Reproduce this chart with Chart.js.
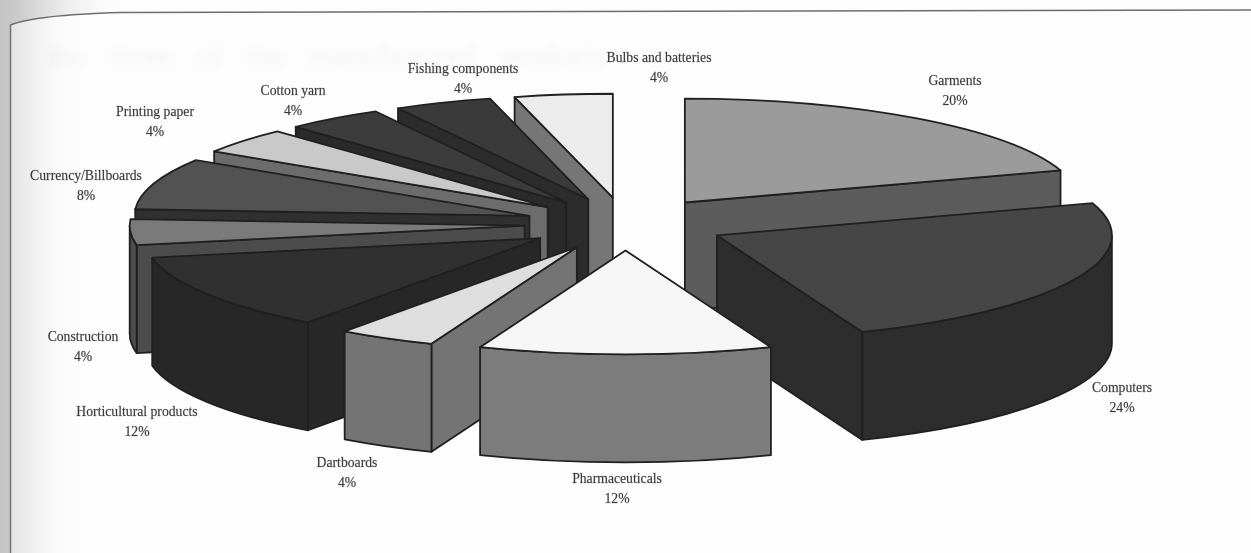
<!DOCTYPE html>
<html>
<head>
<meta charset="utf-8">
<title>Exports by product</title>
<script src="https://cdn.jsdelivr.net/npm/chart.js@4/dist/chart.umd.js"></script>
<style>
  html, body { margin: 0; padding: 0; background: #fdfdfd; }
  canvas { display: block; }
</style>
</head>
<body>
<canvas id="productPie" width="1251" height="553"></canvas>
<script>
// ── Data ───────────────────────────────────────────────────────────────────
const categories = [
  "Garments", "Computers", "Pharmaceuticals", "Dartboards",
  "Horticultural products", "Construction", "Currency/Billboards",
  "Printing paper", "Cotton yarn", "Fishing components", "Bulbs and batteries",
];
const shareValues = [20, 24, 12, 4, 12, 4, 8, 4, 4, 4, 4];
const topColors = [
  "#9b9b9b", "#464646", "#f6f6f6", "#dedede", "#303030", "#7a7a7a",
  "#525252", "#c9c9c9", "#3c3c3c", "#3a3a3a", "#ececec",
];
const sideColors = [
  "#5c5c5c", "#2d2d2d", "#7c7c7c", "#747474", "#272727", "#4c4c4c",
  "#303030", "#6c6c6c", "#2a2a2a", "#2c2c2c", "#767676",
];

// ── Layout ─────────────────────────────────────────────────────────────────
const PIE_RADIUS = 395;     // horizontal radius of every slice
const TILT = 0.263;         // vertical squash of the pie plane
const EXPLODE = 101;        // how far each slice is pulled from the centre
const DEPTH = 108;          // height of the extruded walls
const EDGE_COLOR = "#202020";

// centre x of each label, y of its name line
const labelAnchors = [
  [955, 81], [1122, 388], [617, 479], [347, 463], [137, 412], [83, 337],
  [86, 176], [155, 112], [293, 91], [463, 69], [659, 58],
];

// ── Page background: scanned sheet with the box rule ───────────────────────
function traceRule(ctx, height, width) {
  ctx.moveTo(10.5, height);
  ctx.lineTo(10.5, 25);
  ctx.quadraticCurveTo(35, 15, 120, 12.5);
  ctx.lineTo(width, 10);
}

const paperPlugin = {
  id: "paper",
  beforeDraw(chart) {
    const { ctx, width, height } = chart;
    ctx.save();
    ctx.fillStyle = "#fdfdfd";
    ctx.fillRect(0, 0, width, height);

    // shadow along the binding, inside the box
    const inner = ctx.createLinearGradient(11, 0, 85, 0);
    inner.addColorStop(0, "#e2e2e2");
    inner.addColorStop(1, "rgba(253,253,253,0)");
    ctx.fillStyle = inner;
    ctx.fillRect(11, 0, 74, height);

    // shadow outside the box, above and left of the rule
    const outer = ctx.createLinearGradient(0, 0, 130, 0);
    outer.addColorStop(0, "#c4c4c4");
    outer.addColorStop(0.1, "#c8c8c8");
    outer.addColorStop(1, "rgba(253,253,253,0)");
    ctx.beginPath();
    traceRule(ctx, height, width);
    ctx.lineTo(width, 0);
    ctx.lineTo(0, 0);
    ctx.lineTo(0, height);
    ctx.closePath();
    ctx.fillStyle = outer;
    ctx.fill();

    ctx.strokeStyle = "#6e6e6e";
    ctx.lineWidth = 1.4;
    ctx.beginPath();
    traceRule(ctx, height, width);
    ctx.stroke();

    // faint print from the other side of the sheet
    ctx.filter = "blur(3px)";
    ctx.fillStyle = "rgba(90,90,90,0.07)";
    ctx.font = '30px "Liberation Serif"';
    ctx.wordSpacing = "18px";
    ctx.fillText("the three of the manufactured products", 50, 66);
    ctx.restore();
  },
};

// ── Extruded pie: slices are painted back to front ─────────────────────────
function traceTop(ctx, ax, ay, arc) {
  ctx.beginPath();
  ctx.moveTo(ax, ay);
  ctx.ellipse(ax, ay, arc.outerRadius, arc.outerRadius * TILT, 0, arc.startAngle, arc.endAngle);
  ctx.closePath();
}

function paintWall(ctx, color, trace) {
  ctx.beginPath();
  trace();
  ctx.closePath();
  ctx.fillStyle = color;
  ctx.fill();
  ctx.stroke();
}

function drawWalls(ctx, ax, ay, arc, color) {
  const rx = arc.outerRadius;
  const ry = rx * TILT;
  const flat = (wx, wy) => paintWall(ctx, color, () => {
    ctx.moveTo(ax, ay);
    ctx.lineTo(wx, wy);
    ctx.lineTo(wx, wy + DEPTH);
    ctx.lineTo(ax, ay + DEPTH);
  });
  const sx = ax + rx * Math.cos(arc.startAngle);
  const sy = ay + ry * Math.sin(arc.startAngle);
  const ex = ax + rx * Math.cos(arc.endAngle);
  const ey = ay + ry * Math.sin(arc.endAngle);

  // only faces turned towards the viewer show
  if (sx < ax - 0.5) flat(sx, sy);
  if (ex > ax + 0.5) flat(ex, ey);

  const from = Math.max(arc.startAngle, 0);
  const to = Math.min(arc.endAngle, Math.PI);
  if (to > from) {
    paintWall(ctx, color, () => {
      ctx.ellipse(ax, ay, rx, ry, 0, from, to);
      ctx.ellipse(ax, ay + DEPTH, rx, ry, 0, to, from, true);
    });
  }
}

const extrudePlugin = {
  id: "extrude",
  beforeDatasetsDraw(chart) {
    const { ctx } = chart;
    const arcs = chart.getDatasetMeta(0).data;
    const midAngle = (arc) => (arc.startAngle + arc.endAngle) / 2;
    const order = arcs
      .map((arc, i) => i)
      .sort((p, q) => Math.sin(midAngle(arcs[p])) - Math.sin(midAngle(arcs[q])));

    ctx.save();
    ctx.strokeStyle = EDGE_COLOR;
    ctx.lineWidth = 1.8;
    ctx.lineJoin = "round";
    order.forEach((i) => {
      const arc = arcs[i];
      const mid = midAngle(arc);
      const ax = arc.x + Math.cos(mid) * EXPLODE;
      const ay = arc.y + Math.sin(mid) * EXPLODE * TILT;

      drawWalls(ctx, ax, ay, arc, sideColors[i]);

      // top face comes from the library's own arc, laid onto the tilted plane
      ctx.save();
      ctx.translate(ax, ay);
      ctx.scale(1, TILT);
      ctx.translate(-arc.x, -arc.y);
      arc.draw(ctx);
      ctx.restore();

      traceTop(ctx, ax, ay, arc);
      ctx.stroke();
    });
    ctx.restore();
    return false;
  },
  afterDraw(chart) {
    const { ctx } = chart;
    ctx.save();
    ctx.font = '13.7px "Liberation Serif"';
    ctx.fillStyle = "#3a3a3a";
    ctx.strokeStyle = "rgba(58,58,58,0.45)";
    ctx.lineWidth = 0.35;
    ctx.textAlign = "center";
    ctx.textBaseline = "middle";
    categories.forEach((name, i) => {
      const [x, y] = labelAnchors[i];
      const share = shareValues[i] + "%";
      ctx.fillText(name, x, y);
      ctx.strokeText(name, x, y);
      ctx.fillText(share, x, y + 20);
      ctx.strokeText(share, x, y + 20);
    });
    ctx.restore();
  },
};

new Chart(document.getElementById("productPie"), {
  type: "pie",
  data: {
    labels: categories,
    datasets: [{
      data: shareValues,
      backgroundColor: topColors,
      borderWidth: 0,
    }],
  },
  options: {
    responsive: false,
    animation: false,
    radius: PIE_RADIUS,
    layout: { padding: { bottom: 105 } },
    plugins: {
      legend: { display: false },
      tooltip: { enabled: false },
    },
  },
  plugins: [paperPlugin, extrudePlugin],
});
</script>
</body>
</html>
